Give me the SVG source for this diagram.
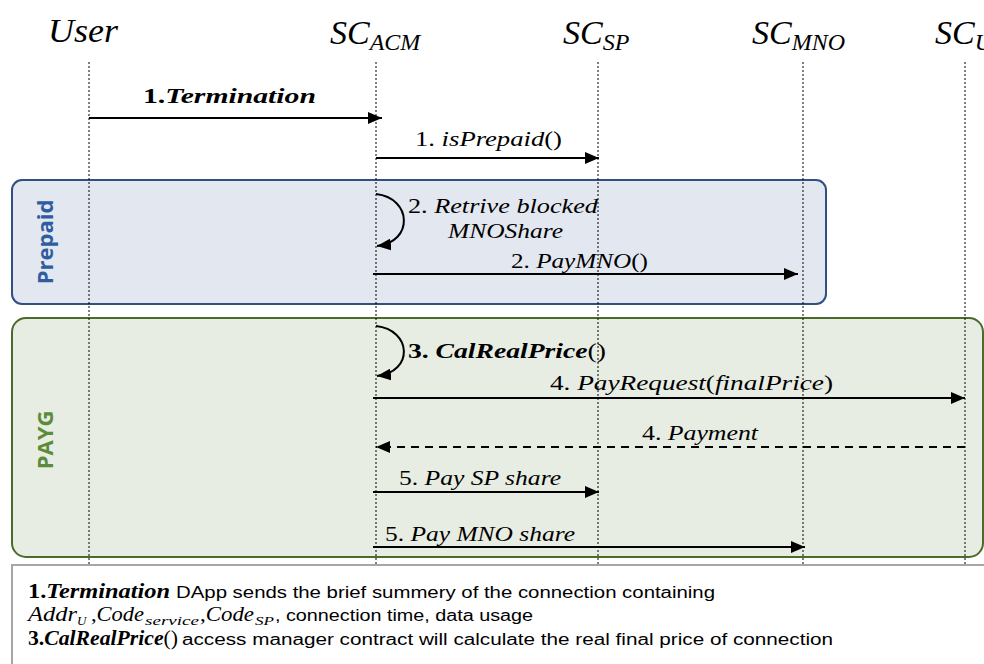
<svg xmlns="http://www.w3.org/2000/svg" width="984" height="664" viewBox="0 0 984 664">
<style>
.hd{font-family:"Liberation Serif",serif;font-style:italic;font-size:34px;fill:#000}
.sub{font-size:24px}
.m{font-family:"Liberation Serif",serif;font-style:italic;font-size:21px;fill:#000}
.mb{font-weight:bold}
.up{font-style:normal}
.life{stroke:#000;stroke-width:1;stroke-dasharray:2 2;fill:none}
.msg{stroke:#000;stroke-width:2;fill:none}
.dash{stroke-dasharray:8 6}
.grp{font-family:"Open Sans","Liberation Sans",sans-serif;font-weight:bold;font-size:22px}
.note{font-family:"Liberation Sans",sans-serif;font-size:16px;fill:#000}
.ns{font-size:13px}
</style>
<defs>
<marker id="ah" markerUnits="userSpaceOnUse" markerWidth="14" markerHeight="12" refX="14" refY="6" orient="auto">
<path d="M0,0 L14,6 L0,12 z" fill="#000"/>
</marker>
</defs>

<g id="frame-prepaid">
<rect x="12" y="180" width="814" height="124" rx="10" fill="#e3e7f0" stroke="#2f5080" stroke-width="2"/>
<text class="grp" fill="#2f5ea0" transform="translate(53,242) rotate(-90)" text-anchor="middle">Prepaid</text>
</g>
<g id="frame-payg">
<rect x="12" y="318" width="971" height="239" rx="14" fill="#e8ede3" stroke="#4a6b2a" stroke-width="2"/>
<text class="grp" fill="#5b8c3a" transform="translate(53,440) rotate(-90)" text-anchor="middle">PAYG</text>
</g>

<g id="user">
<text class="hd" x="48" y="42" textLength="70" lengthAdjust="spacingAndGlyphs">User</text>
<line class="life" x1="89" y1="62" x2="89" y2="564"/>
</g>
<g id="sc-acm">
<text class="hd" x="330" y="44">SC<tspan class="sub" dy="6">ACM</tspan></text>
<line class="life" x1="376" y1="62" x2="376" y2="564"/>
</g>
<g id="sc-sp">
<text class="hd" x="563" y="44">SC<tspan class="sub" dy="6">SP</tspan></text>
<line class="life" x1="598" y1="62" x2="598" y2="564"/>
</g>
<g id="sc-mno">
<text class="hd" x="752" y="44">SC<tspan class="sub" dy="6">MNO</tspan></text>
<line class="life" x1="803" y1="62" x2="803" y2="564"/>
</g>
<g id="sc-u">
<text class="hd" x="935" y="44">SC<tspan class="sub" dy="6">U</tspan></text>
<line class="life" x1="965" y1="62" x2="965" y2="564"/>
</g>

<g id="connectors">
<line class="msg" x1="89" y1="118" x2="382" y2="118" stroke-width="2.5" marker-end="url(#ah)"/>
<text class="m" x="143" y="103" textLength="173" lengthAdjust="spacingAndGlyphs"><tspan class="mb up">1.</tspan><tspan class="mb">Termination</tspan></text>

<line class="msg" x1="376" y1="158" x2="599" y2="158" marker-end="url(#ah)"/>
<text class="m" x="415" y="146" textLength="147" lengthAdjust="spacingAndGlyphs"><tspan class="up">1. </tspan>isPrepaid<tspan class="up">()</tspan></text>

<path class="msg" d="M376,194 C412,198 414,242 377,246" marker-end="url(#ah)"/>
<text class="m" x="408" y="213" textLength="190" lengthAdjust="spacingAndGlyphs"><tspan class="up">2. </tspan>Retrive blocked</text>
<text class="m" x="448" y="238" textLength="115" lengthAdjust="spacingAndGlyphs">MNOShare</text>

<line class="msg" x1="373" y1="274" x2="798" y2="274" marker-end="url(#ah)"/>
<text class="m" x="511" y="268" textLength="137" lengthAdjust="spacingAndGlyphs"><tspan class="up">2. </tspan>PayMNO<tspan class="up">()</tspan></text>

<path class="msg" d="M376,326 C412,330 414,372 377,376" marker-end="url(#ah)"/>
<text class="m" x="408" y="358" textLength="198" lengthAdjust="spacingAndGlyphs"><tspan class="mb up">3. </tspan><tspan class="mb">CalRealPrice</tspan><tspan class="up">()</tspan></text>

<line class="msg" x1="373" y1="398" x2="965" y2="398" marker-end="url(#ah)"/>
<text class="m" x="550" y="390" textLength="283" lengthAdjust="spacingAndGlyphs"><tspan class="up">4. </tspan>PayRequest<tspan class="up">(</tspan>finalPrice<tspan class="up">)</tspan></text>

<line class="msg dash" x1="965" y1="447" x2="376" y2="447" marker-end="url(#ah)"/>
<text class="m" x="642" y="440" textLength="116" lengthAdjust="spacingAndGlyphs"><tspan class="up">4. </tspan>Payment</text>

<line class="msg" x1="373" y1="492" x2="599" y2="492" marker-end="url(#ah)"/>
<text class="m" x="399" y="485" textLength="162" lengthAdjust="spacingAndGlyphs"><tspan class="up">5. </tspan>Pay SP share</text>

<line class="msg" x1="373" y1="547" x2="805" y2="547" marker-end="url(#ah)"/>
<text class="m" x="385" y="541" textLength="190" lengthAdjust="spacingAndGlyphs"><tspan class="up">5. </tspan>Pay MNO share</text>
</g>

<g id="notes">
<rect x="12" y="565" width="990" height="120" fill="#fff" stroke="#a6a6a6" stroke-width="2"/>
<text class="m" x="28" y="598" font-size="19" textLength="142" lengthAdjust="spacingAndGlyphs"><tspan class="mb up">1.</tspan><tspan class="mb">Termination</tspan></text>
<text class="note" x="176" y="598" textLength="539" lengthAdjust="spacingAndGlyphs">DApp sends the brief summery of the connection containing</text>
<text class="m" x="28" y="621" font-size="19" textLength="49" lengthAdjust="spacingAndGlyphs">Addr</text>
<text class="m ns" x="77" y="625">U</text>
<text class="m" x="91" y="621" font-size="19" textLength="53" lengthAdjust="spacingAndGlyphs"><tspan class="up">,</tspan>Code</text>
<text class="m ns" x="145" y="625" textLength="54" lengthAdjust="spacingAndGlyphs">service</text>
<text class="m" x="200" y="621" font-size="19" textLength="54" lengthAdjust="spacingAndGlyphs"><tspan class="up">,</tspan>Code</text>
<text class="m ns" x="255" y="625" textLength="19" lengthAdjust="spacingAndGlyphs">SP</text>
<text class="note" x="275" y="621" textLength="258" lengthAdjust="spacingAndGlyphs">, connection time, data usage</text>
<text class="m" x="28" y="645" font-size="19" textLength="150" lengthAdjust="spacingAndGlyphs"><tspan class="mb up">3.</tspan><tspan class="mb">CalRealPrice</tspan><tspan class="up">()</tspan></text>
<text class="note" x="182" y="645" textLength="651" lengthAdjust="spacingAndGlyphs">access manager contract will calculate the real final price of connection</text>
</g>
</svg>
